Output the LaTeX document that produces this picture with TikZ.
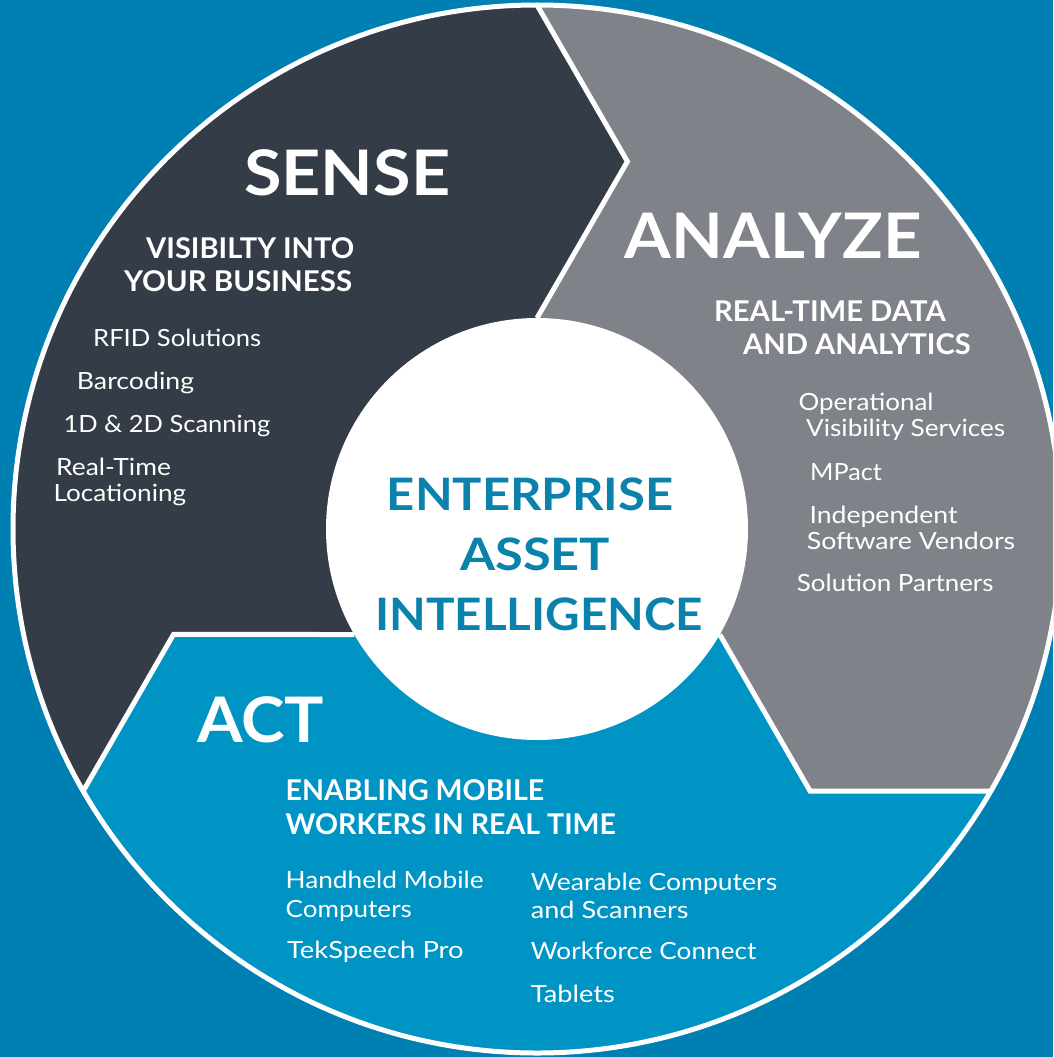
\documentclass[tikz,border=0pt]{standalone}
\usepackage{fontspec}
\setmainfont{Lato}
\usepackage{graphicx}
\definecolor{bgblue}{RGB}{0,127,179}
\definecolor{sensecol}{RGB}{52,60,71}
\definecolor{analyzecol}{RGB}{127,131,137}
\definecolor{actcol}{RGB}{0,148,196}
\definecolor{corecol}{RGB}{10,130,172}
\newlength\fitlen
\newcommand\fitw[2]{\settowidth{\fitlen}{#2}\pgfmathsetmacro\fitsx{#1/\fitlen}\scalebox{\fitsx}[1]{#2}}
\tikzset{
  headtxt/.style={text=white, font=\fontsize{62.8}{62.8}\selectfont\bfseries, inner sep=0pt, anchor=base west},
  subtxt/.style={text=white, font=\fontsize{28.6}{28.6}\selectfont\bfseries, inner sep=0pt, anchor=base west},
  itemtxt/.style={text=white, font=\fontsize{23.7}{23.7}\selectfont, inner sep=0pt, anchor=base west},
  coretxt/.style={text=corecol, font=\fontsize{44.7}{44.7}\selectfont\bfseries, inner sep=0pt, anchor=base west},
  sepline/.style={draw=white, line width=5pt, line join=miter},
}
\begin{document}
\begin{tikzpicture}[x=1pt,y=1pt]
\useasboundingbox (0,0) rectangle (1053,-1057);
\clip (0,0) rectangle (1053,-1057);
\fill[bgblue] (0,0) rectangle (1053,-1057);
\begin{scope}[shift={(537,-529)}]
  \fill[sensecol] (76.18:378.5) -- (90:524) arc[start angle=90, end angle=210, radius=524]
     -- (196.18:378.5) -- (210:211) -- (0,0) -- (90:211) -- cycle;
  \fill[analyzecol] (90:524) -- (76.18:378.5) -- (90:211) -- (0,0) -- (-30:211)
     -- (-43.82:378.5) -- (-30:524) arc[start angle=-30, end angle=90, radius=524] -- cycle;
  \fill[actcol] (-30:524) -- (-43.82:378.5) -- (-30:211) -- (0,0) -- (210:211)
     -- (196.18:378.5) -- (210:524) arc[start angle=210, end angle=330, radius=524] -- cycle;
  \draw[sepline] (90:524) -- (76.18:378.5) -- (90:211);
  \draw[sepline] (-30:524) -- (-43.82:378.5) -- (-30:211);
  \draw[sepline] (210:524) -- (196.18:378.5) -- (210:211);
  \draw[draw=white, line width=5pt] (0,0) circle[radius=524];
  \fill[white] (0,0) circle[radius=211];
\end{scope}
% SENSE
\node[headtxt] (sense) at (244,-195.4) {\fitw{206}{SENSE}};
\node[subtxt] (s1) at (146,-258.8) {\fitw{208}{VISIBILTY INTO}};
\node[subtxt] (s2) at (124,-291.5) {\fitw{228}{YOUR BUSINESS}};
\node[itemtxt] (s3) at (93,-346.7) {\fitw{168}{RFID Solutions}};
\node[itemtxt] (s4) at (76.7,-389.3) {\fitw{117.3}{Barcoding}};
\node[itemtxt] (s5) at (63.3,-432.3) {\fitw{206.7}{1D \& 2D Scanning}};
\node[itemtxt] (s6) at (56,-475) {\fitw{114.7}{Real-Time}};
\node[itemtxt] (s7) at (53.3,-501.7) {\fitw{132.7}{Locationing}};
% ANALYZE
\node[headtxt] (analyze) at (624.6,-258.6) {\fitw{296.8}{ANALYZE}};
\node[subtxt] (a1) at (713.9,-321) {\fitw{231.7}{REAL-TIME DATA}};
\node[subtxt] (a2) at (742.8,-354) {\fitw{227.7}{AND ANALYTICS}};
\node[itemtxt] (a3) at (798.3,-410.7) {\fitw{135}{Operational}};
\node[itemtxt] (a4) at (806,-436.7) {\fitw{199}{Visibility Services}};
\node[itemtxt] (a5) at (810,-480) {\fitw{71.7}{MPact}};
\node[itemtxt] (a6) at (809.3,-523.3) {\fitw{148}{Independent}};
\node[itemtxt] (a7) at (806.7,-549.3) {\fitw{208.3}{Software Vendors}};
\node[itemtxt] (a8) at (796.7,-591.7) {\fitw{196.6}{Solution Partners}};
% CORE
\node[coretxt] (c1) at (386.7,-510) {\fitw{286.3}{ENTERPRISE}};
\node[coretxt] (c2) at (460,-570) {\fitw{150}{ASSET}};
\node[coretxt] (c3) at (375,-630) {\fitw{328}{INTELLIGENCE}};
% ACT
\node[headtxt] (act) at (197,-742) {\fitw{127}{ACT}};
\node[subtxt] (t1) at (285.4,-800.5) {\fitw{258.6}{ENABLING MOBILE}};
\node[subtxt] (t2) at (285.4,-834.8) {\fitw{330.4}{WORKERS IN REAL TIME}};
\node[itemtxt] (t3) at (285.4,-888) {\fitw{198}{Handheld Mobile}};
\node[itemtxt] (t4) at (285.4,-917) {\fitw{126.3}{Computers}};
\node[itemtxt] (t5) at (286.8,-958) {\fitw{176.6}{TekSpeech Pro}};
\node[itemtxt] (t6) at (530.6,-890) {\fitw{246.4}{Wearable Computers}};
\node[itemtxt] (t7) at (530.6,-918) {\fitw{157.8}{and Scanners}};
\node[itemtxt] (t8) at (530.6,-959) {\fitw{225.6}{Workforce Connect}};
\node[itemtxt] (t9) at (530.6,-1002) {\fitw{84}{Tablets}};
\end{tikzpicture}
\end{document}
